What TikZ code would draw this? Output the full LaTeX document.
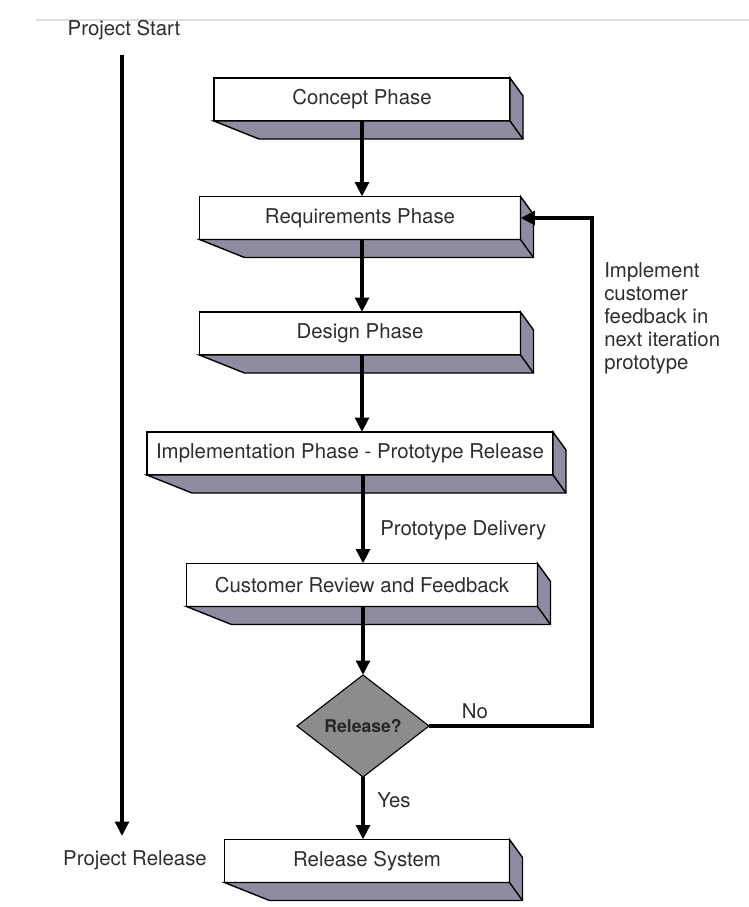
\documentclass[tikz,border=0pt]{standalone}
\usepackage{fontspec}
\setmainfont{TeX Gyre Heros}
\usetikzlibrary{arrows.meta,shapes.geometric,calc}
\definecolor{slabgray}{HTML}{8E8CA0}
\definecolor{diagray}{HTML}{8C8C8C}
\definecolor{inkgray}{HTML}{2E2E2E}
% box with its 3d slab: name, x, y, width, text
\newcommand{\phase}[5]{
	\node[phase, minimum width=#4*0.025cm] (#1) at (#2,#3) {#5};
	\filldraw[slab] (#1.south west) -- ++(45,18) -- ($(#1.south east)+(13,18)$) -- ($(#1.north east)+(13,18)$) -- (#1.north east) -- (#1.south east) -- cycle;
	\draw[slab] (#1.south east) -- ++(13,18);
	}

\begin{document}
\begin{tikzpicture}[
      x=0.025cm, y=-0.025cm, %one unit = one pixel of the sketch
      phase/.style={draw, line width=1pt, fill=white, minimum height=1.075cm, inner sep=0pt, outer sep=0pt,
                    text=inkgray, font=\fontsize{14.5}{17}\selectfont},
      slab/.style={fill=slabgray, draw=black, line width=1pt},
      flow/.style={line width=2.6pt, -{Triangle[length=0.36cm, width=0.34cm]}},
      decision/.style={diamond, draw, line width=0.8pt, fill=diagray, minimum width=3.3cm, minimum height=2.55cm,
                       inner sep=0pt, outer sep=0pt, text=black!85, font=\fontsize{12.5}{14}\selectfont\bfseries},
      note/.style={text=inkgray, font=\fontsize{14.5}{16.5}\selectfont, inner sep=0pt}
    ]
    \useasboundingbox (0,0) rectangle (749,907);
    \draw[gray!25, line width=2pt] (36,20) -- (749,20);
    % time line on the left
    \node[note] (start) at (124,30) {Project Start};
    \node[note] (end) at (135,860) {Project Release};
    \coordinate (tltop) at (122,55);
    \coordinate (tlbot) at (122,836);
    \draw[flow] (tltop) -- (tlbot);
    % the phases
    \phase{concept}{362}{99.5}{296}{Concept Phase};
    \phase{req}{360}{218}{321}{Requirements Phase};
    \phase{design}{360}{333.5}{321}{Design Phase};
    \phase{impl}{350}{453.5}{406}{Implementation Phase - Prototype Release};
    \phase{review}{362}{585}{351}{Customer Review and Feedback};
    \phase{release}{367}{861}{285}{Release System};
    \node[decision] (dec) at (363,726) {\raisebox{-3pt}{Release?}};
    % the flow
    \draw[flow] (concept.south) -- (concept.south |- req.north);
    \draw[flow] (req.south -| concept.south) -- (concept.south |- design.north);
    \draw[flow] (design.south -| concept.south) -- (concept.south |- impl.north);
    \draw[flow] (impl.south -| dec.north) -- (dec.north |- review.north);
    \draw[flow] (review.south -| dec.north) -- (dec.north);
    \draw[flow] (dec.south) -- (dec.south |- release.north);
    % feedback loop
    \coordinate (turn) at (592,727);
    \draw[flow] (dec.east) -- (dec.east -| turn) |- (req.east);
    % labels
    \node[note, anchor=west] (deliv) at (380,530) {Prototype Delivery};
    \node[note] (no) at (475,711) {No};
    \node[note, anchor=west] (yes) at (377,800) {Yes};
    \node[note, anchor=north west, align=left] (fb) at (604,262) {Implement\\customer\\feedback in\\next iteration\\prototype};
\end{tikzpicture}
\end{document}
